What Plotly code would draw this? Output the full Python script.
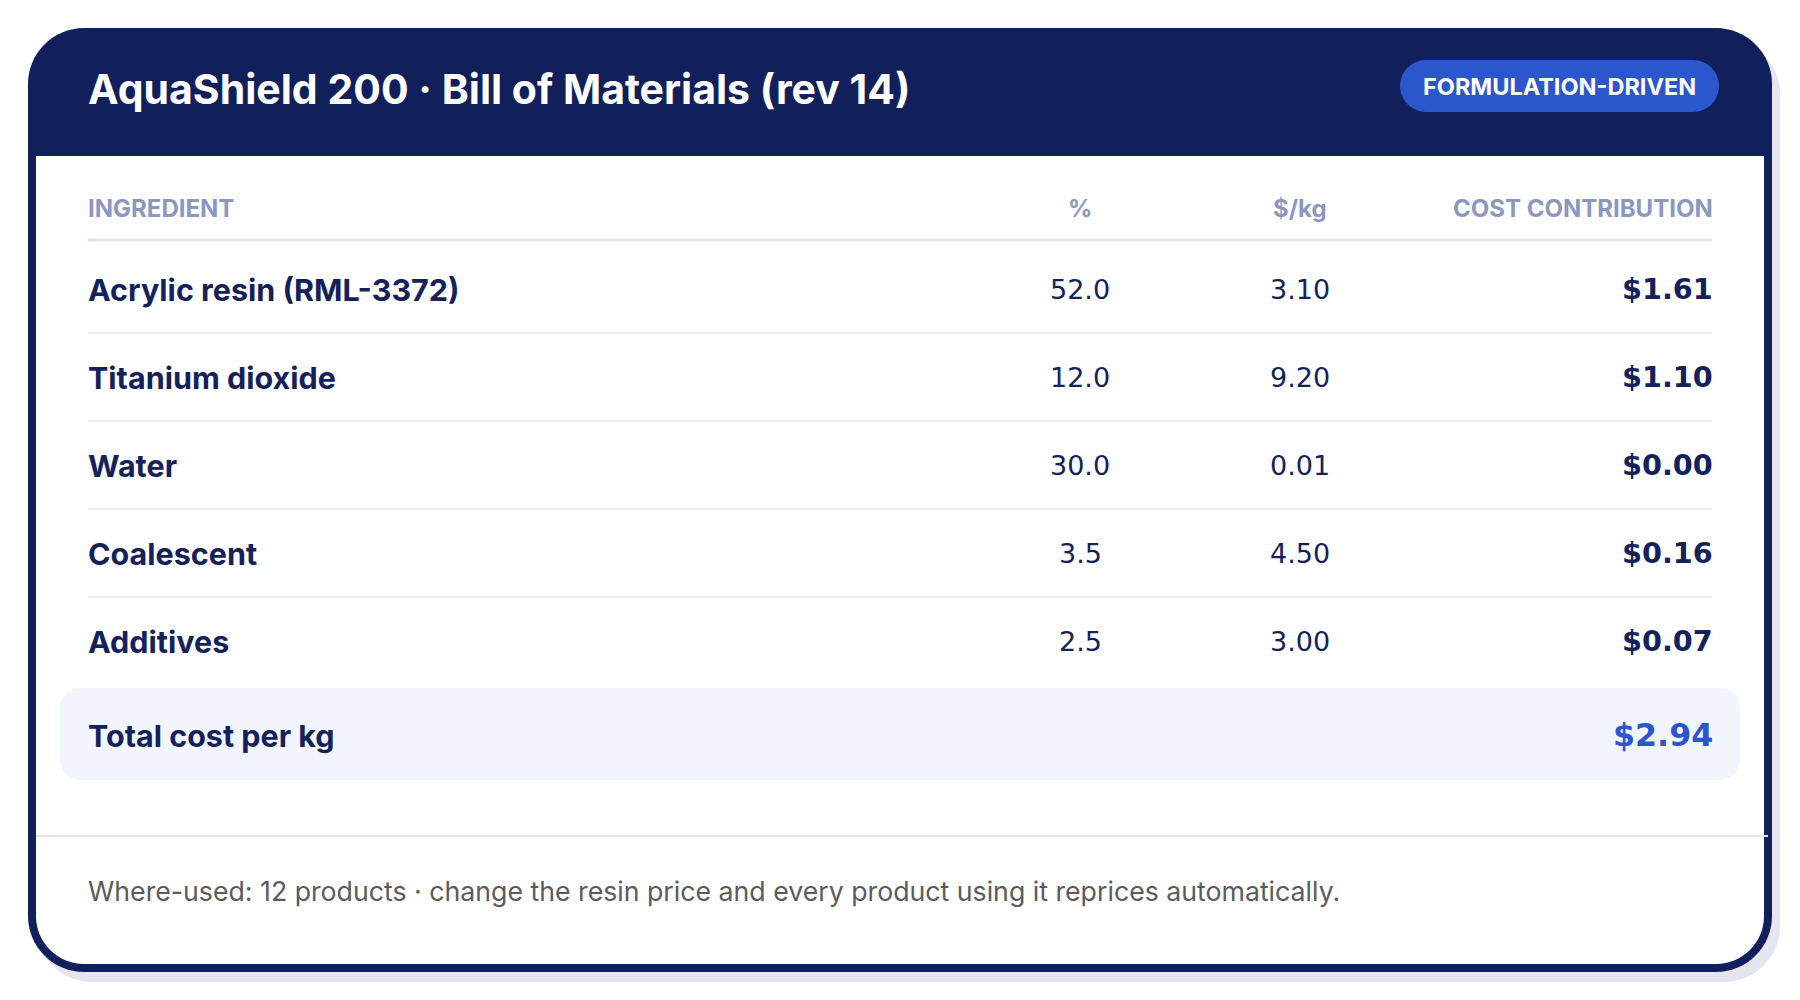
import plotly.graph_objects as go

# ---------------- data ----------------
title = "AquaShield 200 · Bill of Materials (rev 14)"
badge = "FORMULATION-DRIVEN"
columns = ["INGREDIENT", "%", "$/kg", "COST CONTRIBUTION"]
ingredients = ["Acrylic resin (RML-3372)", "Titanium dioxide", "Water", "Coalescent", "Additives"]
pct = [52.0, 12.0, 30.0, 3.5, 2.5]
price_per_kg = [3.10, 9.20, 0.01, 4.50, 3.00]
cost_contribution = [1.61, 1.10, 0.00, 0.16, 0.07]
total_label = "Total cost per kg"
total_cost = 2.94
footer = "Where-used: 12 products · change the resin price and every product using it reprices automatically."

# ---------------- style ----------------
W, H = 1800, 1000
OFF = 8  # page body margin
NAVY = "#111f5b"
TEXT = "#14215a"
MUTED = "#8c97c0"
BLUE = "#2b56cc"
TXT_FONT = "Inter"
NUM_FONT = "DejaVu Sans"

def rrect(x0, y0, x1, y1, r_tl, r_tr=None, r_br=None, r_bl=None):
    r_tr = r_tl if r_tr is None else r_tr
    r_br = r_tl if r_br is None else r_br
    r_bl = r_tl if r_bl is None else r_bl
    k = 0.5523
    p = f"M {x0 + r_tl},{y0} L {x1 - r_tr},{y0} "
    if r_tr:
        p += f"C {x1 - r_tr + k*r_tr},{y0} {x1},{y0 + r_tr - k*r_tr} {x1},{y0 + r_tr} "
    p += f"L {x1},{y1 - r_br} "
    if r_br:
        p += f"C {x1},{y1 - r_br + k*r_br} {x1 - r_br + k*r_br},{y1} {x1 - r_br},{y1} "
    p += f"L {x0 + r_bl},{y1} "
    if r_bl:
        p += f"C {x0 + r_bl - k*r_bl},{y1} {x0},{y1 - r_bl + k*r_bl} {x0},{y1 - r_bl} "
    p += f"L {x0},{y0 + r_tl} "
    if r_tl:
        p += f"C {x0},{y0 + r_tl - k*r_tl} {x0 + r_tl - k*r_tl},{y0} {x0 + r_tl},{y0} "
    return p + "Z"

shapes = []
# shadow
shapes.append(dict(type="path", path=rrect(36, 38, 1780, 982, 56), fillcolor="#e5e6ed",
                   line=dict(width=0), layer="below", xref="x", yref="y"))
# card outer (navy border + header)
shapes.append(dict(type="path", path=rrect(28, 28, 1772, 972, 56), fillcolor=NAVY,
                   line=dict(width=0), layer="below", xref="x", yref="y"))
# white body
shapes.append(dict(type="path", path=rrect(36, 156, 1764, 964, 0, 0, 48, 48), fillcolor="#ffffff",
                   line=dict(width=0), layer="below", xref="x", yref="y"))
# badge
shapes.append(dict(type="path", path=rrect(1400, 60, 1719, 112, 26), fillcolor=BLUE,
                   line=dict(width=0), layer="below", xref="x", yref="y"))

LEFT, RIGHT = 88, 1712
TL, TR = 86, 1715          # text anchors (compensate glyph side bearings)
COL_PCT, COL_PRICE = 1080, 1300
HEAD_Y = 208
ROW0, ROW_H = 289, 88

# header underline
shapes.append(dict(type="line", x0=LEFT, x1=RIGHT, y0=240, y1=240,
                   line=dict(color="#e1e4ee", width=3), xref="x", yref="y"))
# row separators
for i in range(len(ingredients) - 1):
    y = ROW0 + ROW_H * i + ROW_H / 2
    shapes.append(dict(type="line", x0=LEFT, x1=RIGHT, y0=y, y1=y,
                       line=dict(color="#eceef4", width=2), xref="x", yref="y"))
# total row background
shapes.append(dict(type="path", path=rrect(60, 688, 1740, 780, 20), fillcolor="#f2f5fd",
                   line=dict(width=0), layer="below", xref="x", yref="y"))
# footer divider
shapes.append(dict(type="line", x0=36, x1=1768, y0=836, y1=836,
                   line=dict(color="#e1e3ec", width=2), xref="x", yref="y"))

ann = []
def A(text, x, y, size, color, family=TXT_FONT, weight=400, anchor="left"):
    ann.append(dict(text=text, x=x, y=y, xref="x", yref="y", xanchor=anchor, yanchor="middle",
                    showarrow=False, font=dict(family=family, size=size, color=color, weight=weight)))

A(title, TL, 89, 41, "#ffffff", weight=700)
A(badge, 1559.5, 86, 23.5, "#ffffff", weight=700, anchor="center")

A(columns[0], TL, HEAD_Y, 24, MUTED, weight=700)
A(columns[1], COL_PCT, HEAD_Y, 24, MUTED, weight=700, anchor="center")
A(columns[2], COL_PRICE, HEAD_Y, 24, MUTED, weight=700, anchor="center")
A(columns[3], TR, HEAD_Y, 24, MUTED, weight=700, anchor="right")

for i, name in enumerate(ingredients):
    y = ROW0 + ROW_H * i
    A(name, TL, y, 30.5, TEXT, weight=700)
    A(f"{pct[i]:.1f}", COL_PCT, y, 27, TEXT, family=NUM_FONT, anchor="center")
    A(f"{price_per_kg[i]:.2f}", COL_PRICE, y, 27, TEXT, family=NUM_FONT, anchor="center")
    A(f"${cost_contribution[i]:.2f}", TR, y, 28.7, TEXT, family=NUM_FONT, weight=700, anchor="right")

A(total_label, TL, 735, 30.5, TEXT, weight=700)
A(f"${total_cost:.2f}", TR, 735, 31.7, BLUE, family=NUM_FONT, weight=700, anchor="right")

A(footer, TL, 891, 26.7, "#5b5b5b")

fig = go.Figure()
fig.update_layout(
    width=W, height=H, margin=dict(l=0, r=0, t=0, b=0),
    paper_bgcolor="#ffffff", plot_bgcolor="#ffffff",
    xaxis=dict(range=[OFF, W + OFF], visible=False, fixedrange=True),
    yaxis=dict(range=[H + OFF, OFF], visible=False, fixedrange=True),
    shapes=shapes, annotations=ann, showlegend=False, hovermode=False,
)
fig.write_html("out.html", config={"displayModeBar": False})
